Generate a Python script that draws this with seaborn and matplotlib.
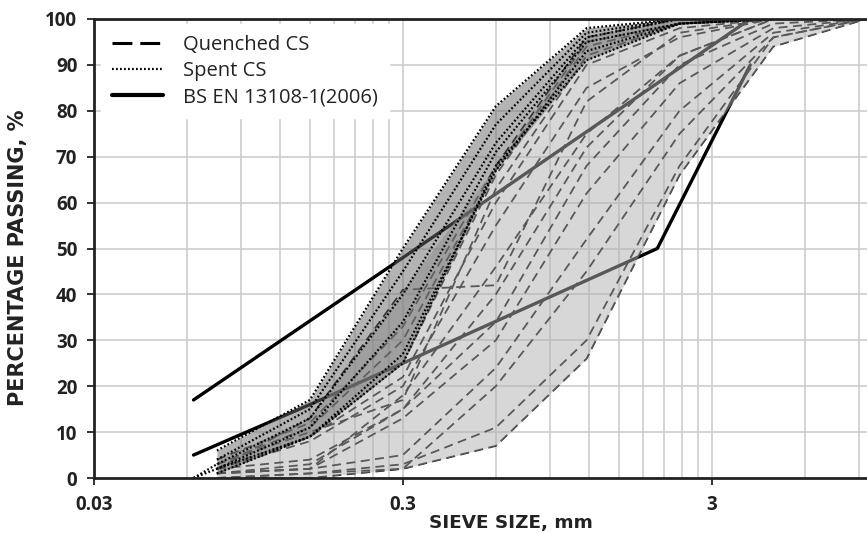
import numpy as np
import pandas as pd
import matplotlib
matplotlib.use("Agg")
import matplotlib.pyplot as plt
import seaborn as sns
from matplotlib.lines import Line2D
from matplotlib.ticker import FixedLocator, NullFormatter

# ---------------- data ----------------
sieve_q = [0.075, 0.15, 0.3, 0.6, 1.18, 2.36, 4.75, 9.5]
quenched = [
    [0, 0, 2, 7, 26, 66, 94, 100],
    [0, 1, 3, 11, 30, 68, 96, 100],
    [0, 1, 2, 20, 45, 75, 96, 100],
    [1, 2, 5, 24, 52, 80, 97, 100],
    [1, 2, 13, 30, 62, 86, 98, 100],
    [1, 3, 15, 34, 68, 90, 99, 100],
    [2, 4, 15, 40, 72, 92, 100, 100],
    [1, 2, 18, 46, 75, 92, 100, 100],
    [2, 8, 20, 55, 85, 96, 100, 100],
    [2, 9, 22, 60, 90, 98, 100, 100],
    [3, 10, 17, 63, 92, 99, 100, 100],
    [1, 9, 25, 66, 94, 99, 100, 100],
    [2, 13, 41, 42, 82, 97, 100, 100],
    [3, 11, 30, 67, 95, 99, 100, 100],
    [4, 12, 33, 68, 96, 100, 100, 100],
]

sieve_s = [0.063, 0.075, 0.15, 0.3, 0.6, 1.18, 2.36, 4.75]
spent = [
    [np.nan, 6, 17, 50, 81, 98, 100, 100],
    [np.nan, 4, 15, 45, 77, 97, 100, 100],
    [0, 3, 13, 40, 73, 96, 100, 100],
    [np.nan, 2, 11, 34, 71, 95, 99, 100],
    [0, 2, 9, 27, 67, 93, 99, 100],
    [np.nan, 1, 9, 25, 68, 91, 99, 100],
]

bs_lower_x = [0.063, 0.15, 0.3, 2, 4]
bs_lower_y = [5, 16, 25, 50, 90]
bs_upper_x = [0.063, 0.3, 2, 4]
bs_upper_y = [17, 48, 86, 100]

x_ticks = [0.03, 0.3, 3]
x_tick_labels = ["0.03", "0.3", "3"]
x_minor_grid = [0.06, 0.09, 0.12, 0.15, 0.18, 0.21, 0.24, 0.27,
                0.6, 0.9, 1.2, 1.5, 1.8, 2.1, 2.4, 2.7, 6, 9]
y_ticks = list(range(0, 101, 10))
legend_labels = ["Quenched CS", "Spent CS", "BS EN 13108-1(2006)"]

# ---------------- frames ----------------
def long_df(xs, curves, name):
    rows = []
    for i, c in enumerate(curves):
        for x, y in zip(xs, c):
            rows.append({"size": x, "passing": y, "curve": f"{name}{i}"})
    return pd.DataFrame(rows).dropna()

df_q = long_df(sieve_q, quenched, "q")
df_s = long_df(sieve_s, spent, "s")
df_bs = pd.concat([
    pd.DataFrame({"size": bs_lower_x, "passing": bs_lower_y, "curve": "lo"}),
    pd.DataFrame({"size": bs_upper_x, "passing": bs_upper_y, "curve": "up"}),
])

# ---------------- style ----------------
sns.set_theme(style="white")
plt.rcParams["font.family"] = ["Open Sans", "DejaVu Sans"]

fig = plt.figure(figsize=(8.67, 5.33), dpi=100)
ax = fig.add_axes([94 / 867, 55 / 533, 773 / 867, 459 / 533])
ax.set_xscale("log")

# lines under the light overlay
sns.lineplot(data=df_bs, x="size", y="passing", units="curve", estimator=None,
             color="black", lw=2.4, ax=ax, zorder=2, sort=False)
sns.lineplot(data=df_q, x="size", y="passing", units="curve", estimator=None,
             color="black", lw=1.3, linestyle=(0, (5, 3)), ax=ax, zorder=2)

# light envelope (quenched), semi-transparent overlay
q_arr = np.array(quenched, dtype=float)
ax.fill_between(sieve_q, q_arr.min(axis=0), q_arr.max(axis=0),
                color=(177 / 255,) * 3, alpha=0.5, lw=0, zorder=3)

# dark envelope (spent)
s_arr = np.array(spent, dtype=float)
ok = ~np.isnan(s_arr).any(axis=0)
ax.fill_between(np.array(sieve_s)[ok], s_arr[:, ok].min(axis=0), s_arr[:, ok].max(axis=0),
                color=(105 / 255,) * 3, alpha=0.5, lw=0, zorder=4)

sns.lineplot(data=df_s, x="size", y="passing", units="curve", estimator=None,
             color="black", lw=1.6, linestyle=(0, (0.8, 1.0)), ax=ax, zorder=5)

# ---------------- axes ----------------
ax.set_xlim(0.03, 9.55)
ax.set_ylim(0, 100)
ax.xaxis.set_major_locator(FixedLocator(x_ticks))
ax.set_xticklabels(x_tick_labels)
ax.xaxis.set_minor_locator(FixedLocator(x_minor_grid))
ax.xaxis.set_minor_formatter(NullFormatter())
ax.set_yticks(y_ticks)

ax.grid(which="major", axis="both", color="#cdcdcd", lw=1.2, zorder=0)
ax.grid(which="minor", axis="x", color="#cdcdcd", lw=1.2, zorder=0)
ax.set_axisbelow(True)

for side in ["left", "bottom", "top"]:
    ax.spines[side].set_color("#222222")
    ax.spines[side].set_linewidth(2)
    ax.spines[side].set_visible(True)
    ax.spines[side].set_zorder(6)
ax.spines["right"].set_visible(False)

ax.tick_params(axis="both", which="major", direction="out", length=5, width=1.3,
               color="#222222", labelsize=13.5, pad=7, bottom=True, left=True)
ax.tick_params(axis="x", which="minor", length=0)
for lab in ax.get_xticklabels() + ax.get_yticklabels():
    lab.set_fontweight("bold")
    lab.set_color("#222222")

ax.set_xlabel("SIEVE SIZE, mm", fontsize=13.2, fontweight="bold", color="#222222",
              family="DejaVu Sans")
ax.set_ylabel("PERCENTAGE PASSING, %", fontsize=15, fontweight="bold", color="#222222",
              family="DejaVu Sans")
ax.xaxis.set_label_coords(0.539, -0.079)
ax.yaxis.set_label_coords(-0.086, 0.479)

handles = [
    Line2D([], [], color="black", lw=2.2, linestyle=(0, (6.5, 2.6))),
    Line2D([], [], color="black", lw=1.6, linestyle=(0, (0.8, 1.0))),
    Line2D([], [], color="black", lw=3),
]
leg = ax.legend(handles, legend_labels, loc="upper left", bbox_to_anchor=(0.004, 0.998),
                frameon=True, facecolor="white", edgecolor="white", framealpha=1,
                fancybox=False, fontsize=14.5, handlelength=2.5, handletextpad=1.0,
                labelspacing=0.3, borderpad=0.55, borderaxespad=0.2)
leg.set_zorder(10)
for t in leg.get_texts():
    t.set_color("#222222")

fig.savefig("out.png", dpi=100)
